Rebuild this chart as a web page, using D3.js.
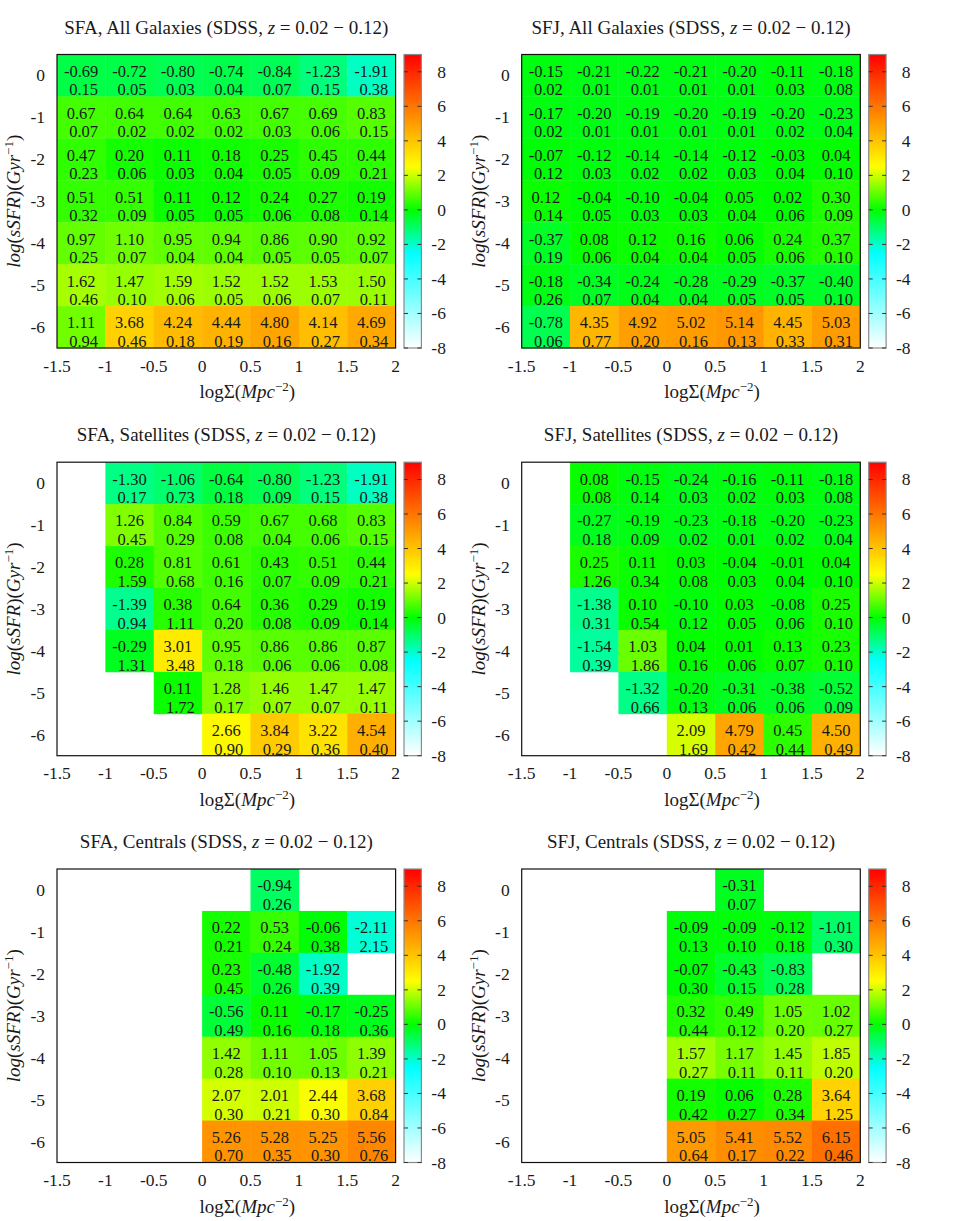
<!DOCTYPE html>
<html>
<head>
<meta charset="utf-8">
<script src="https://cdn.jsdelivr.net/npm/d3@7"></script>
<style>
  body { margin: 0; background: #fff; }
  svg text { font-family: "Liberation Serif", "Times New Roman", serif; fill: #1a1a1a; }
</style>
</head>
<body>
<div id="chart"></div>
<script>
// Bin centres and tick values
let xCenters = [-1.25, -0.75, -0.25, 0.25, 0.75, 1.25, 1.75];
let yCenters = [0, -1, -2, -3, -4, -5, -6];
let xTicks = [-1.5, -1, -0.5, 0, 0.5, 1, 1.5, 2];
let yTicks = [0, -1, -2, -3, -4, -5, -6];
let cbTicks = [-8, -6, -4, -2, 0, 2, 4, 6, 8];

let titles = [
  "SFA, All Galaxies", "SFJ, All Galaxies",
  "SFA, Satellites", "SFJ, Satellites",
  "SFA, Centrals", "SFJ, Centrals"
];

// rows = yCenters (0 .. -6), columns = xCenters, null = empty bin
let sfaAllVal = [
  [-0.69, -0.72, -0.80, -0.74, -0.84, -1.23, -1.91],
  [0.67, 0.64, 0.64, 0.63, 0.67, 0.69, 0.83],
  [0.47, 0.20, 0.11, 0.18, 0.25, 0.45, 0.44],
  [0.51, 0.51, 0.11, 0.12, 0.24, 0.27, 0.19],
  [0.97, 1.10, 0.95, 0.94, 0.86, 0.90, 0.92],
  [1.62, 1.47, 1.59, 1.52, 1.52, 1.53, 1.50],
  [1.11, 3.68, 4.24, 4.44, 4.80, 4.14, 4.69]
];
let sfaAllErr = [
  [0.15, 0.05, 0.03, 0.04, 0.07, 0.15, 0.38],
  [0.07, 0.02, 0.02, 0.02, 0.03, 0.06, 0.15],
  [0.23, 0.06, 0.03, 0.04, 0.05, 0.09, 0.21],
  [0.32, 0.09, 0.05, 0.05, 0.06, 0.08, 0.14],
  [0.25, 0.07, 0.04, 0.04, 0.05, 0.05, 0.07],
  [0.46, 0.10, 0.06, 0.05, 0.06, 0.07, 0.11],
  [0.94, 0.46, 0.18, 0.19, 0.16, 0.27, 0.34]
];

let sfjAllVal = [
  [-0.15, -0.21, -0.22, -0.21, -0.20, -0.11, -0.18],
  [-0.17, -0.20, -0.19, -0.20, -0.19, -0.20, -0.23],
  [-0.07, -0.12, -0.14, -0.14, -0.12, -0.03, 0.04],
  [0.12, -0.04, -0.10, -0.04, 0.05, 0.02, 0.30],
  [-0.37, 0.08, 0.12, 0.16, 0.06, 0.24, 0.37],
  [-0.18, -0.34, -0.24, -0.28, -0.29, -0.37, -0.40],
  [-0.78, 4.35, 4.92, 5.02, 5.14, 4.45, 5.03]
];
let sfjAllErr = [
  [0.02, 0.01, 0.01, 0.01, 0.01, 0.03, 0.08],
  [0.02, 0.01, 0.01, 0.01, 0.01, 0.02, 0.04],
  [0.12, 0.03, 0.02, 0.02, 0.03, 0.04, 0.10],
  [0.14, 0.05, 0.03, 0.03, 0.04, 0.06, 0.09],
  [0.19, 0.06, 0.04, 0.04, 0.05, 0.06, 0.10],
  [0.26, 0.07, 0.04, 0.04, 0.05, 0.05, 0.10],
  [0.06, 0.77, 0.20, 0.16, 0.13, 0.33, 0.31]
];

let sfaSatVal = [
  [null, -1.30, -1.06, -0.64, -0.80, -1.23, -1.91],
  [null, 1.26, 0.84, 0.59, 0.67, 0.68, 0.83],
  [null, 0.28, 0.81, 0.61, 0.43, 0.51, 0.44],
  [null, -1.39, 0.38, 0.64, 0.36, 0.29, 0.19],
  [null, -0.29, 3.01, 0.95, 0.86, 0.86, 0.87],
  [null, null, 0.11, 1.28, 1.46, 1.47, 1.47],
  [null, null, null, 2.66, 3.84, 3.22, 4.54]
];
let sfaSatErr = [
  [null, 0.17, 0.73, 0.18, 0.09, 0.15, 0.38],
  [null, 0.45, 0.29, 0.08, 0.04, 0.06, 0.15],
  [null, 1.59, 0.68, 0.16, 0.07, 0.09, 0.21],
  [null, 0.94, 1.11, 0.20, 0.08, 0.09, 0.14],
  [null, 1.31, 3.48, 0.18, 0.06, 0.06, 0.08],
  [null, null, 1.72, 0.17, 0.07, 0.07, 0.11],
  [null, null, null, 0.90, 0.29, 0.36, 0.40]
];

let sfjSatVal = [
  [null, 0.08, -0.15, -0.24, -0.16, -0.11, -0.18],
  [null, -0.27, -0.19, -0.23, -0.18, -0.20, -0.23],
  [null, 0.25, 0.11, 0.03, -0.04, -0.01, 0.04],
  [null, -1.38, 0.10, -0.10, 0.03, -0.08, 0.25],
  [null, -1.54, 1.03, 0.04, 0.01, 0.13, 0.23],
  [null, null, -1.32, -0.20, -0.31, -0.38, -0.52],
  [null, null, null, 2.09, 4.79, 0.45, 4.50]
];
let sfjSatErr = [
  [null, 0.08, 0.14, 0.03, 0.02, 0.03, 0.08],
  [null, 0.18, 0.09, 0.02, 0.01, 0.02, 0.04],
  [null, 1.26, 0.34, 0.08, 0.03, 0.04, 0.10],
  [null, 0.31, 0.54, 0.12, 0.05, 0.06, 0.10],
  [null, 0.39, 1.86, 0.16, 0.06, 0.07, 0.10],
  [null, null, 0.66, 0.13, 0.06, 0.06, 0.09],
  [null, null, null, 1.69, 0.42, 0.44, 0.49]
];

let sfaCenVal = [
  [null, null, null, null, -0.94, null, null],
  [null, null, null, 0.22, 0.53, -0.06, -2.11],
  [null, null, null, 0.23, -0.48, -1.92, null],
  [null, null, null, -0.56, 0.11, -0.17, -0.25],
  [null, null, null, 1.42, 1.11, 1.05, 1.39],
  [null, null, null, 2.07, 2.01, 2.44, 3.68],
  [null, null, null, 5.26, 5.28, 5.25, 5.56]
];
let sfaCenErr = [
  [null, null, null, null, 0.26, null, null],
  [null, null, null, 0.21, 0.24, 0.38, 2.15],
  [null, null, null, 0.45, 0.26, 0.39, null],
  [null, null, null, 0.49, 0.16, 0.18, 0.36],
  [null, null, null, 0.28, 0.10, 0.13, 0.21],
  [null, null, null, 0.30, 0.21, 0.30, 0.84],
  [null, null, null, 0.70, 0.35, 0.30, 0.76]
];

let sfjCenVal = [
  [null, null, null, null, -0.31, null, null],
  [null, null, null, -0.09, -0.09, -0.12, -1.01],
  [null, null, null, -0.07, -0.43, -0.83, null],
  [null, null, null, 0.32, 0.49, 1.05, 1.02],
  [null, null, null, 1.57, 1.17, 1.45, 1.85],
  [null, null, null, 0.19, 0.06, 0.28, 3.64],
  [null, null, null, 5.05, 5.41, 5.52, 6.15]
];
let sfjCenErr = [
  [null, null, null, null, 0.07, null, null],
  [null, null, null, 0.13, 0.10, 0.18, 0.30],
  [null, null, null, 0.30, 0.15, 0.28, null],
  [null, null, null, 0.44, 0.12, 0.20, 0.27],
  [null, null, null, 0.27, 0.11, 0.11, 0.20],
  [null, null, null, 0.42, 0.27, 0.34, 1.25],
  [null, null, null, 0.64, 0.17, 0.22, 0.46]
];

let panels = [
  { title: titles[0], val: sfaAllVal, err: sfaAllErr },
  { title: titles[1], val: sfjAllVal, err: sfjAllErr },
  { title: titles[2], val: sfaSatVal, err: sfaSatErr },
  { title: titles[3], val: sfjSatVal, err: sfjSatErr },
  { title: titles[4], val: sfaCenVal, err: sfaCenErr },
  { title: titles[5], val: sfjCenVal, err: sfjCenErr }
];

// Layout
let width = 969, height = 1221;
let colLeft = [57, 521.7];
let rowTop = [54.5, 462.2, 869];
let plotW = 338.6, plotH = 293.5;
let cbGap = 8.4, cbW = 17.4;
let fontSize = 17.5;   // tick labels
let cellFont = 16.5;   // numbers inside the cells
let labelFont = 19;    // titles and axis labels

// gnuplot-like palette: white -> cyan -> green -> yellow -> red
let color = d3.scaleLinear()
  .domain([-8, -2.5, 0, 2.5, 9])
  .range(["#ffffff", "#00ffff", "#00ff00", "#ffff00", "#ff0000"])
  .clamp(true);

let svg = d3.select("#chart").append("svg")
  .attr("width", width)
  .attr("height", height);

// one shared gradient for all colour bars
svg.append("defs")
  .append("linearGradient")
  .attr("id", "cbGradient")
  .attr("x1", 0).attr("y1", 1)
  .attr("x2", 0).attr("y2", 0)
  .selectAll("stop")
  .data(d3.range(0, 1.001, 0.01))
  .enter()
  .append("stop")
  .attr("offset", d => d * 100 + "%")
  .attr("stop-color", d => color(-8 + d * 17));

let fmt = v => v.toFixed(2);

panels.forEach((p, i) => {
  let left = colLeft[i % 2];
  let top = rowTop[Math.floor(i / 2)];

  let x = d3.scaleLinear().domain([-1.5, 2]).range([left, left + plotW]);
  let y = d3.scaleLinear().domain([-6.5, 0.5]).range([top + plotH, top]);
  let cb = d3.scaleLinear().domain([-8, 9]).range([top + plotH, top]);

  let g = svg.append("g");

  // flatten cells
  let cells = [];
  p.val.forEach((row, r) => {
    row.forEach((v, c) => {
      if (v !== null) cells.push({ x: xCenters[c], y: yCenters[r], v: v, e: p.err[r][c] });
    });
  });

  // heatmap cells
  g.selectAll("rect.cell")
    .data(cells)
    .enter()
    .append("rect")
    .attr("class", "cell")
    .attr("x", d => x(d.x - 0.25))
    .attr("y", d => y(d.y + 0.5))
    .attr("width", d => x(d.x + 0.25) - x(d.x - 0.25) + 0.4)
    .attr("height", d => y(d.y - 0.5) - y(d.y + 0.5) + 0.4)
    .attr("fill", d => color(d.v));

  // value / error labels
  let lbl = g.selectAll("text.cell")
    .data(cells)
    .enter()
    .append("text")
    .attr("class", "cell")
    .attr("text-anchor", "middle")
    .attr("font-size", cellFont);
  lbl.append("tspan")
    .attr("x", d => x(d.x))
    .attr("y", d => y(d.y) + 1.4)
    .text(d => fmt(d.v));
  lbl.append("tspan")
    .attr("x", d => x(d.x) + 2.5)
    .attr("y", d => y(d.y) + 19.9)
    .text(d => fmt(d.e));

  // plot border
  g.append("rect")
    .attr("x", left).attr("y", top)
    .attr("width", plotW).attr("height", plotH)
    .attr("fill", "none")
    .attr("stroke", "#111")
    .attr("stroke-width", 1.2);

  // x tick labels
  g.selectAll("text.xt")
    .data(xTicks)
    .enter()
    .append("text")
    .attr("class", "xt")
    .attr("x", d => x(d))
    .attr("y", top + plotH + 23.5)
    .attr("text-anchor", "middle")
    .attr("font-size", fontSize)
    .text(d => String(d));

  // y tick labels
  g.selectAll("text.yt")
    .data(yTicks)
    .enter()
    .append("text")
    .attr("class", "yt")
    .attr("x", left - 12)
    .attr("y", d => y(d) + 6)
    .attr("text-anchor", "end")
    .attr("font-size", fontSize)
    .text(d => String(d));

  // title
  let t = g.append("text")
    .attr("x", left + plotW / 2)
    .attr("y", top - 21)
    .attr("text-anchor", "middle")
    .attr("font-size", labelFont);
  t.append("tspan").text(p.title + " (SDSS, ");
  t.append("tspan").attr("font-style", "italic").text("z");
  t.append("tspan").text(" = 0.02 \u2212 0.12)");

  // x axis label
  let xl = g.append("text")
    .attr("x", left + plotW / 2 + 21)
    .attr("y", top + plotH + 50)
    .attr("text-anchor", "middle")
    .attr("font-size", labelFont);
  xl.append("tspan").text("log\u03A3(");
  xl.append("tspan").attr("font-style", "italic").text("Mpc");
  xl.append("tspan").attr("font-size", 13).attr("dy", -7).text("\u22122");
  xl.append("tspan").attr("dy", 7).text(")");

  // y axis label
  let yl = g.append("text")
    .attr("transform", `translate(${left - 37},${top + plotH / 2}) rotate(-90)`)
    .attr("text-anchor", "middle")
    .attr("font-size", labelFont)
    .attr("font-style", "italic");
  yl.append("tspan").text("log");
  yl.append("tspan").attr("font-style", "normal").text("(");
  yl.append("tspan").text("sSFR");
  yl.append("tspan").attr("font-style", "normal").text(")(");
  yl.append("tspan").text("Gyr");
  yl.append("tspan").attr("font-style", "normal").attr("font-size", 13).attr("dy", -7).text("\u22121");
  yl.append("tspan").attr("font-style", "normal").attr("dy", 7).text(")");

  // colour bar
  let cbLeft = left + plotW + cbGap;
  g.append("rect")
    .attr("x", cbLeft).attr("y", top)
    .attr("width", cbW).attr("height", plotH)
    .attr("fill", "url(#cbGradient)")
    .attr("stroke", "#8a8a8a")
    .attr("stroke-width", 1.2);

  g.selectAll("line.cbl")
    .data(cbTicks)
    .enter()
    .append("line")
    .attr("x1", cbLeft).attr("x2", cbLeft + 4)
    .attr("y1", d => cb(d)).attr("y2", d => cb(d))
    .attr("stroke", "#333");
  g.selectAll("line.cbr")
    .data(cbTicks)
    .enter()
    .append("line")
    .attr("x1", cbLeft + cbW - 4).attr("x2", cbLeft + cbW)
    .attr("y1", d => cb(d)).attr("y2", d => cb(d))
    .attr("stroke", "#333");

  g.selectAll("text.cbt")
    .data(cbTicks)
    .enter()
    .append("text")
    .attr("x", cbLeft + cbW + 24.5)
    .attr("y", d => cb(d) + 6)
    .attr("text-anchor", "end")
    .attr("font-size", fontSize)
    .text(d => String(d));
});
</script>
</body>
</html>
